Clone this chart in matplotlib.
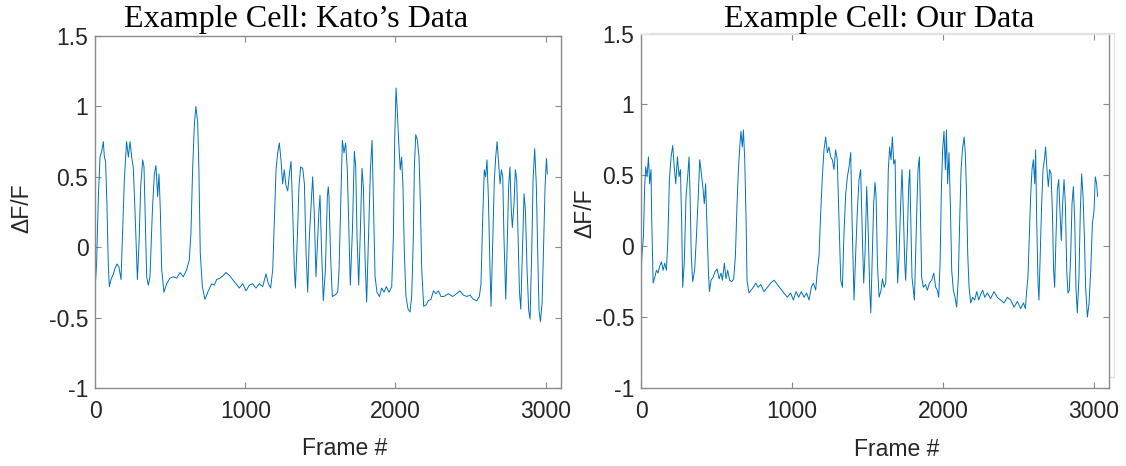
import matplotlib.pyplot as plt
from matplotlib.patches import Rectangle

# Kato's data: frame number and dF/F
kato_frames = [0, 8, 20, 31, 42, 53, 60, 68, 77, 86, 93, 104, 120, 131, 144, 157, 171, 180, 193, 208,
               220, 231, 242, 253, 264, 280, 291, 302, 315, 324, 331, 342, 353, 364, 380, 393, 404, 415,
               424, 433, 442, 457, 475, 497, 520, 542, 564, 586, 608, 626, 637, 648, 660, 670, 682, 690,
               699, 713, 730, 753, 775, 793, 808, 830, 853, 870, 893, 915, 937, 959, 982, 1004, 1026,
               1048, 1070, 1093, 1115, 1137, 1153, 1168, 1182, 1193, 1204, 1215, 1226, 1237, 1248, 1259,
               1270, 1282, 1293, 1304, 1315, 1326, 1333, 1346, 1357, 1368, 1382, 1393, 1404, 1415, 1426,
               1437, 1448, 1459, 1470, 1479, 1490, 1497, 1506, 1519, 1533, 1546, 1552, 1557, 1568, 1579,
               1597, 1615, 1624, 1635, 1646, 1657, 1668, 1679, 1688, 1699, 1713, 1726, 1735, 1744, 1755,
               1766, 1777, 1786, 1797, 1808, 1819, 1833, 1844, 1853, 1864, 1877, 1893, 1908, 1924, 1939,
               1957, 1975, 1986, 1995, 2004, 2013, 2021, 2032, 2041, 2050, 2059, 2070, 2084, 2097, 2108,
               2119, 2126, 2135, 2146, 2157, 2166, 2175, 2188, 2204, 2219, 2237, 2253, 2270, 2286, 2303,
               2323, 2352, 2381, 2408, 2430, 2452, 2475, 2497, 2519, 2541, 2559, 2570, 2581, 2592, 2601,
               2610, 2619, 2630, 2637, 2648, 2659, 2668, 2677, 2686, 2697, 2706, 2715, 2723, 2735, 2746,
               2754, 2763, 2772, 2779, 2790, 2799, 2808, 2817, 2826, 2835, 2846, 2857, 2866, 2877, 2888,
               2897, 2908, 2917, 2928, 2939, 2948, 2957, 2966, 2977, 2986, 2997, 3006, 3012]
kato_dff = [-0.26, -0.12, 0.36, 0.64, 0.68, 0.75, 0.64, 0.61, 0.31, -0.12, -0.28, -0.23, -0.19, -0.15,
            -0.12, -0.14, -0.23, 0.07, 0.48, 0.75, 0.64, 0.75, 0.64, 0.56, 0.26, -0.23, 0.03, 0.43, 0.62,
            0.57, 0.26, -0.21, -0.27, -0.21, 0.26, 0.52, 0.58, 0.36, 0.52, 0.26, -0.16, -0.32, -0.26,
            -0.22, -0.21, -0.22, -0.18, -0.21, -0.16, -0.09, 0.10, 0.55, 0.88, 1.00, 0.88, 0.55, -0.04,
            -0.28, -0.37, -0.31, -0.26, -0.27, -0.23, -0.22, -0.20, -0.18, -0.20, -0.23, -0.26, -0.29,
            -0.26, -0.31, -0.27, -0.26, -0.29, -0.26, -0.28, -0.19, -0.26, -0.29, -0.16, 0.19, 0.55,
            0.67, 0.74, 0.62, 0.45, 0.55, 0.44, 0.40, 0.52, 0.61, 0.26, -0.16, -0.29, 0.07, 0.43, 0.57,
            0.56, 0.45, -0.04, -0.32, 0.07, 0.29, 0.50, 0.24, -0.21, 0.00, 0.26, 0.37, 0.03, -0.38,
            -0.16, 0.36, 0.43, 0.36, -0.07, -0.35, -0.34, -0.32, -0.16, 0.31, 0.76, 0.67, 0.74, 0.55,
            0.19, -0.27, 0.12, 0.68, 0.57, 0.07, -0.27, 0.12, 0.56, 0.43, -0.07, -0.39, 0.03, 0.55, 0.76,
            0.31, -0.21, -0.32, -0.35, -0.29, -0.32, -0.28, -0.32, -0.28, 0.07, 0.78, 1.13, 0.95, 0.76,
            0.55, 0.64, 0.43, -0.04, -0.35, -0.44, -0.46, -0.35, 0.07, 0.57, 0.80, 0.76, 0.64, 0.31,
            -0.16, -0.42, -0.41, -0.38, -0.37, -0.31, -0.33, -0.31, -0.35, -0.35, -0.33, -0.35, -0.33,
            -0.31, -0.34, -0.35, -0.34, -0.37, -0.38, -0.35, -0.26, 0.19, 0.55, 0.50, 0.62, 0.36, -0.16,
            -0.42, 0.03, 0.48, 0.64, 0.75, 0.62, 0.45, 0.55, 0.50, 0.07, -0.37, 0.07, 0.43, 0.57, 0.26,
            0.14, 0.31, 0.55, 0.48, 0.07, -0.31, -0.44, -0.04, 0.38, 0.26, -0.16, -0.45, -0.51, -0.04,
            0.48, 0.70, 0.43, -0.04, -0.45, -0.53, -0.40, -0.04, 0.43, 0.63, 0.52]

# our data: frame number and dF/F
our_frames = [0, 7, 16, 24, 31, 40, 49, 57, 66, 71, 80, 91, 102, 113, 124, 135, 146, 157, 168, 177,
              188, 199, 210, 221, 230, 241, 252, 261, 269, 276, 287, 298, 309, 318, 325, 333, 342, 355,
              367, 378, 389, 400, 411, 419, 428, 437, 446, 453, 464, 477, 490, 504, 517, 530, 539, 552,
              563, 574, 587, 601, 614, 625, 636, 645, 654, 662, 671, 678, 687, 696, 702, 715, 729, 744,
              760, 775, 793, 815, 837, 859, 881, 903, 925, 947, 969, 991, 1009, 1027, 1044, 1062, 1080,
              1097, 1113, 1128, 1142, 1157, 1168, 1179, 1190, 1201, 1212, 1223, 1234, 1245, 1256, 1267,
              1278, 1289, 1300, 1312, 1323, 1334, 1345, 1356, 1367, 1378, 1389, 1398, 1411, 1422, 1433,
              1444, 1455, 1466, 1475, 1484, 1495, 1504, 1515, 1522, 1532, 1541, 1550, 1557, 1566, 1577,
              1590, 1599, 1610, 1621, 1630, 1638, 1647, 1656, 1665, 1674, 1683, 1689, 1700, 1709, 1720,
              1729, 1738, 1747, 1753, 1764, 1773, 1780, 1786, 1795, 1804, 1811, 1819, 1828, 1835, 1844,
              1850, 1859, 1870, 1884, 1897, 1910, 1925, 1939, 1952, 1963, 1972, 1981, 1990, 1998, 2007,
              2016, 2023, 2031, 2040, 2049, 2058, 2069, 2080, 2091, 2102, 2111, 2120, 2129, 2140, 2148,
              2155, 2164, 2173, 2184, 2197, 2210, 2224, 2237, 2250, 2263, 2277, 2294, 2316, 2338, 2360,
              2382, 2404, 2427, 2449, 2471, 2493, 2515, 2533, 2546, 2555, 2563, 2572, 2581, 2590, 2599,
              2608, 2614, 2621, 2630, 2636, 2645, 2654, 2663, 2672, 2680, 2689, 2698, 2707, 2716, 2725,
              2733, 2740, 2749, 2758, 2767, 2775, 2784, 2793, 2802, 2811, 2820, 2828, 2837, 2846, 2855,
              2864, 2873, 2881, 2890, 2901, 2910, 2919, 2928, 2937, 2945, 2957, 2968, 2979, 2990, 3001,
              3009, 3018, 3025]
our_dff = [-0.19, -0.05, 0.07, 0.42, 0.56, 0.49, 0.63, 0.44, 0.54, 0.18, -0.26, -0.22, -0.17, -0.19,
           -0.14, -0.11, -0.17, -0.12, -0.17, 0.02, 0.47, 0.63, 0.71, 0.54, 0.44, 0.63, 0.49, 0.54, 0.18,
           -0.29, -0.10, 0.35, 0.49, 0.63, 0.35, -0.07, -0.25, -0.17, 0.07, 0.33, 0.61, 0.51, 0.40, 0.30,
           0.44, 0.14, -0.17, -0.32, -0.24, -0.22, -0.18, -0.16, -0.23, -0.19, -0.24, -0.12, -0.23,
           -0.17, -0.24, -0.25, -0.23, -0.07, 0.30, 0.54, 0.70, 0.81, 0.70, 0.82, 0.61, 0.18, -0.24,
           -0.33, -0.31, -0.29, -0.26, -0.29, -0.27, -0.32, -0.29, -0.26, -0.24, -0.27, -0.30, -0.33,
           -0.36, -0.33, -0.38, -0.32, -0.36, -0.32, -0.36, -0.33, -0.38, -0.29, -0.26, -0.31, -0.17,
           -0.07, 0.23, 0.49, 0.68, 0.77, 0.66, 0.70, 0.63, 0.61, 0.54, 0.68, 0.61, 0.18, -0.24, -0.29,
           0.11, 0.37, 0.49, 0.56, 0.66, 0.18, -0.38, -0.05, 0.25, 0.47, 0.54, 0.07, -0.26, -0.05, 0.42,
           0.14, -0.31, -0.47, -0.05, 0.30, 0.45, 0.35, -0.12, -0.36, -0.31, -0.23, -0.29, -0.26, 0.07,
           0.54, 0.70, 0.61, 0.77, 0.58, 0.61, 0.18, -0.26, -0.07, 0.30, 0.54, 0.23, -0.12, -0.24, 0.07,
           0.42, 0.54, 0.25, -0.22, -0.31, -0.38, -0.05, 0.30, 0.54, 0.63, 0.30, -0.22, -0.29, -0.27,
           -0.31, -0.26, -0.24, -0.19, -0.29, -0.31, -0.36, -0.12, 0.42, 0.68, 0.81, 0.54, 0.82, 0.44,
           0.66, 0.30, -0.17, -0.31, -0.36, -0.43, -0.22, 0.18, 0.54, 0.68, 0.77, 0.66, 0.42, -0.05,
           -0.29, -0.40, -0.36, -0.38, -0.32, -0.38, -0.34, -0.31, -0.36, -0.33, -0.37, -0.32, -0.36,
           -0.38, -0.40, -0.36, -0.38, -0.43, -0.39, -0.44, -0.40, -0.44, -0.31, -0.22, 0.07, 0.35,
           0.54, 0.61, 0.44, 0.68, 0.18, -0.26, -0.38, -0.05, 0.30, 0.54, 0.61, 0.70, 0.54, 0.42, 0.54,
           0.51, 0.25, -0.17, -0.29, 0.07, 0.40, 0.47, 0.25, 0.04, 0.30, 0.47, 0.30, -0.17, -0.33,
           -0.31, -0.07, 0.30, 0.42, 0.18, -0.29, -0.47, -0.22, 0.25, 0.51, 0.35, 0.07, -0.29, -0.50,
           -0.40, -0.17, 0.16, 0.25, 0.49, 0.44, 0.35]

titles = ["Example Cell: Kato\u2019s Data", "Example Cell: Our Data"]
x_ticks = [0, 1000, 2000, 3000]
y_ticks = [-1, -0.5, 0, 0.5, 1, 1.5]
y_ticklabels = ["-1", "-0.5", "0", "0.5", "1", "1.5"]

plt.rcParams['font.family'] = ['Liberation Sans', 'DejaVu Sans']

fig = plt.figure(figsize=(11.26, 4.66), dpi=100)
ax1 = fig.add_axes([0.0847, 0.1674, 0.4131, 0.7553])
ax2 = fig.add_axes([0.5693, 0.1674, 0.4156, 0.7607])

line_color = '#0072BD'
spine_color = '#8a8a8a'
text_color = '#262626'

panels = [(ax1, kato_frames, kato_dff), (ax2, our_frames, our_dff)]
for ax, fr, vals in panels:
    ax.plot(fr, vals, color=line_color, lw=0.7)
    ax.set_xlim(0, 3100)
    ax.set_ylim(-1, 1.5)
    ax.set_xticks(x_ticks)
    ax.set_yticks(y_ticks)
    ax.set_yticklabels(y_ticklabels)
    ax.tick_params(direction='in', top=True, right=True, length=4, width=0.8,
                   color=spine_color, labelcolor=text_color, labelsize=16.5)
    ax.tick_params(axis='x', pad=9)
    ax.tick_params(axis='y', pad=5)
    for s in ax.spines.values():
        s.set_color(spine_color)
        s.set_linewidth(1.0)
    ax.set_xlabel("Frame #", fontsize=16.5, color=text_color, va='top')
    ax.set_ylabel("\u0394F/F", fontsize=16.5, color=text_color)

ax2.spines['top'].set_color('#e2e2e2')

ax1.xaxis.set_label_coords(0.535, -0.14)
ax2.xaxis.set_label_coords(0.547, -0.14)
ax1.yaxis.set_label_coords(-0.134, 0.51)
ax2.yaxis.set_label_coords(-0.096, 0.494)

# titles
fig.text(0.263, 0.942, titles[0], family='Liberation Serif', fontsize=23, ha='center',
         va='baseline', color='black')
fig.text(0.781, 0.942, titles[1], family='Liberation Serif', fontsize=23, ha='center',
         va='baseline', color='black')

# faint frame left over around the right panel
fig.add_artist(Rectangle((649.5 / 1126, 1 - 376.7 / 466), (1114 - 649.5) / 1126, (376.7 - 33) / 466,
                         transform=fig.transFigure, fill=False, edgecolor='#e4e4e4', lw=1.0, zorder=0))

fig.savefig("out.png", dpi=100)
